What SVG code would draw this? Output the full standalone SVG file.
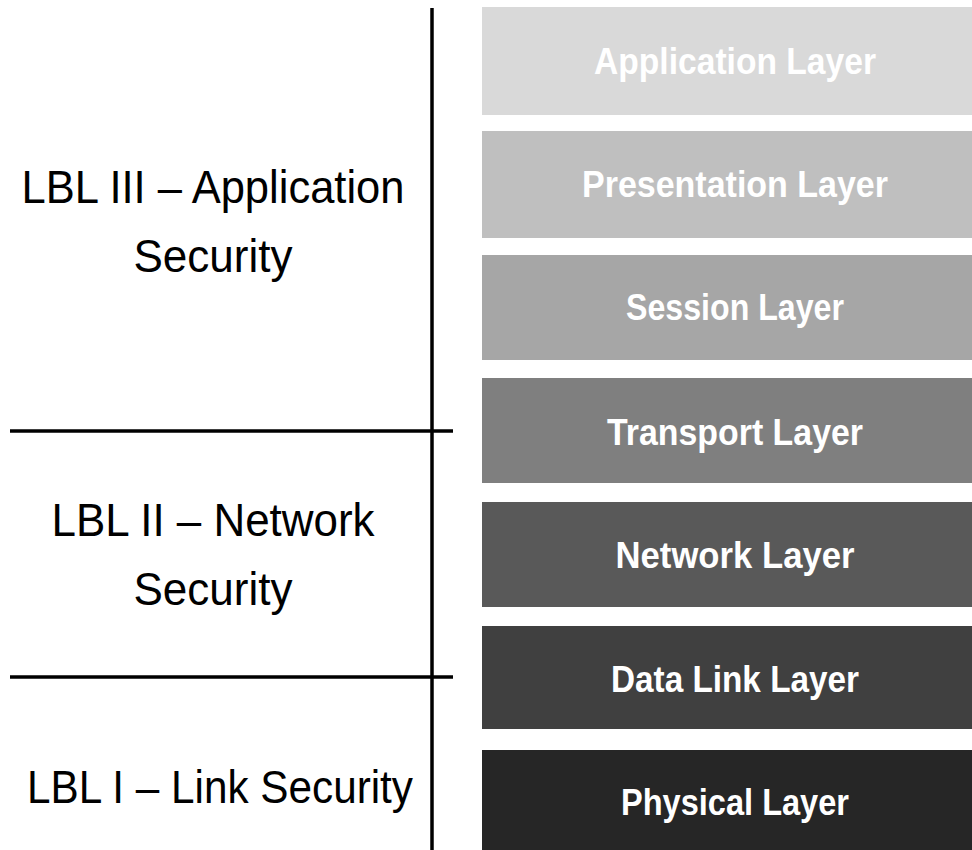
<svg xmlns="http://www.w3.org/2000/svg" width="972" height="850" viewBox="0 0 972 850">
<style>
.lyr text{font-family:"Liberation Sans","Open Sans",sans-serif;font-weight:bold;font-size:36px;fill:#ffffff;text-anchor:middle}
.lbl{font-family:"Liberation Sans","Open Sans",sans-serif;font-size:46px;fill:#000000;text-anchor:middle}
.ln{stroke:#000;stroke-width:3.5;fill:none}
</style>
<rect width="972" height="850" fill="#ffffff"/>
<g id="lines">
<line class="ln" x1="432" y1="8" x2="432" y2="850"/>
<line class="ln" x1="10" y1="431" x2="453" y2="431"/>
<line class="ln" x1="10" y1="677" x2="453" y2="677"/>
</g>
<g id="labels">
<text class="lbl" x="213" y="203" textLength="383" lengthAdjust="spacingAndGlyphs">LBL III – Application</text>
<text class="lbl" x="213" y="272" textLength="159" lengthAdjust="spacingAndGlyphs">Security</text>
<text class="lbl" x="213" y="536" textLength="323" lengthAdjust="spacingAndGlyphs">LBL II – Network</text>
<text class="lbl" x="213" y="605" textLength="159" lengthAdjust="spacingAndGlyphs">Security</text>
<text class="lbl" x="220" y="803" textLength="386" lengthAdjust="spacingAndGlyphs">LBL I – Link Security</text>
</g>
<g class="lyr">
<g id="application"><rect x="482" y="7" width="490" height="108" fill="#d9d9d9"/><text x="735" y="74" textLength="282" lengthAdjust="spacingAndGlyphs">Application Layer</text></g>
<g id="presentation"><rect x="482" y="131" width="490" height="107" fill="#bfbfbf"/><text x="735" y="197" textLength="306" lengthAdjust="spacingAndGlyphs">Presentation Layer</text></g>
<g id="session"><rect x="482" y="255" width="490" height="105" fill="#a6a6a6"/><text x="735" y="320" textLength="218" lengthAdjust="spacingAndGlyphs">Session Layer</text></g>
<g id="transport"><rect x="482" y="378" width="490" height="105" fill="#7f7f7f"/><text x="735" y="445" textLength="256" lengthAdjust="spacingAndGlyphs">Transport Layer</text></g>
<g id="network"><rect x="482" y="502" width="490" height="105" fill="#595959"/><text x="735" y="568" textLength="239" lengthAdjust="spacingAndGlyphs">Network Layer</text></g>
<g id="datalink"><rect x="482" y="626" width="490" height="103" fill="#404040"/><text x="735" y="692" textLength="248" lengthAdjust="spacingAndGlyphs">Data Link Layer</text></g>
<g id="physical"><rect x="482" y="750" width="490" height="100" fill="#262626"/><text x="735" y="815" textLength="228" lengthAdjust="spacingAndGlyphs">Physical Layer</text></g>
</g>
</svg>
